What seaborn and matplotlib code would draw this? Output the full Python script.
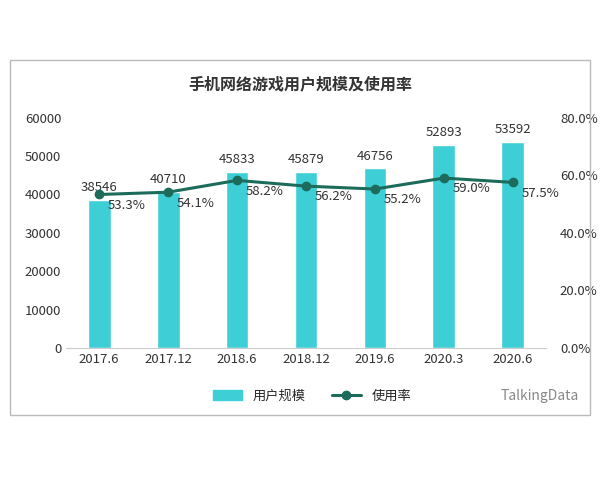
import matplotlib
matplotlib.use("Agg")
import matplotlib.pyplot as plt
import seaborn as sns
import pandas as pd
from matplotlib.patches import Rectangle
from matplotlib.lines import Line2D

periods = ["2017.6", "2017.12", "2018.6", "2018.12", "2019.6", "2020.3", "2020.6"]
users = [38546, 40710, 45833, 45879, 46756, 52893, 53592]
rate = [53.3, 54.1, 58.2, 56.2, 55.2, 59.0, 57.5]

sns.set_style("white")
plt.rcParams['font.family'] = ['Noto Sans CJK SC', 'DejaVu Sans']

BAR = "#3ecfd6"
LINE = "#1d6b5a"

fig = plt.figure(figsize=(6, 4.8), dpi=100)
fig.patches.append(Rectangle((0.017, 0.135), 0.966, 0.74, transform=fig.transFigure,
                             fill=False, edgecolor="#bbbbbb", linewidth=1))
ax = fig.add_axes([0.11, 0.275, 0.8, 0.48])
df = pd.DataFrame({"period": periods, "users": users})
sns.barplot(data=df, x="period", y="users", color=BAR, width=0.33, ax=ax, saturation=1)
ax.set_ylim(0, 60000)
ax.set_yticks(range(0, 60001, 10000))
ax.set_xlabel("")
ax.set_ylabel("")
for s in ["top", "right", "left"]:
    ax.spines[s].set_visible(False)
ax.spines["bottom"].set_color("#cccccc")
ax.tick_params(length=0, labelsize=9.5, colors="#333333")
for i, v in enumerate(users):
    ax.text(i, v + 1500, str(v), ha="center", va="bottom", fontsize=9.5, color="#333333")

ax2 = ax.twinx()
ax2.plot(range(len(periods)), rate, color=LINE, linewidth=2.2, marker="o", markersize=6)
ax2.set_ylim(0, 80)
ax2.set_yticks(range(0, 81, 20))
ax2.set_yticklabels([f"{t:.1f}%" for t in range(0, 81, 20)])
for s in ["top", "right", "left", "bottom"]:
    ax2.spines[s].set_visible(False)
ax2.tick_params(length=0, labelsize=9.5, colors="#333333", pad=10)
for i, r in enumerate(rate):
    ax2.text(i + 0.4, r - 1.5, f"{r:.1f}%", ha="center", va="top", fontsize=9.5, color="#333333")

fig.text(0.5, 0.815, "手机网络游戏用户规模及使用率", ha="center", fontsize=11.5,
         fontweight="bold", color="#333333")
handles = [Rectangle((0, 0), 1, 1, color=BAR),
           Line2D([0], [0], color=LINE, linewidth=2.2, marker="o", markersize=6)]
fig.legend(handles, ["用户规模", "使用率"], loc="center", bbox_to_anchor=(0.52, 0.175),
           ncol=2, frameon=False, fontsize=9.5, handlelength=2.2)
fig.text(0.9, 0.175, "TalkingData", ha="center", va="center", fontsize=10, color="#888888")
fig.savefig("out.png")
